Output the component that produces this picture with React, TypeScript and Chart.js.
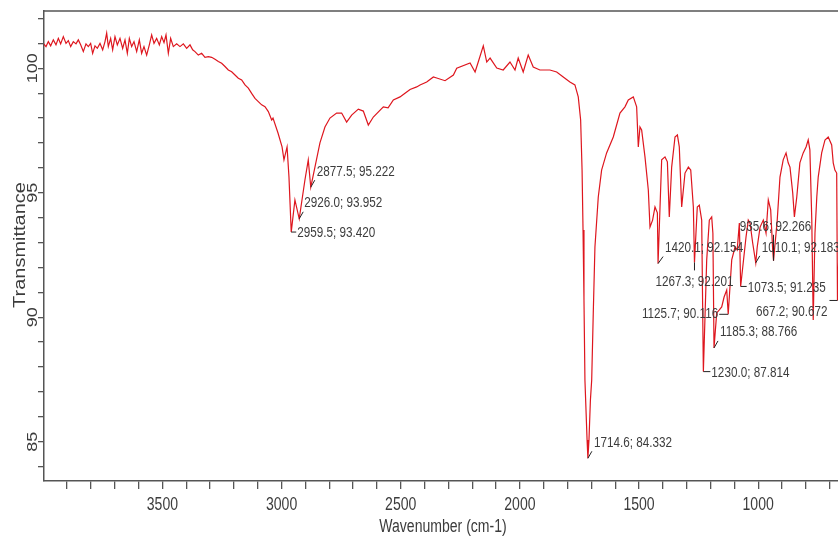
import { useEffect, useRef } from "react";
import { Chart, registerables } from "chart.js";

Chart.register(...registerables);

// ---- Spectrum data ----
const wavenumbers: number[] = [
  4000, 3988.6, 3978.8, 3969.0, 3957.9, 3946.7, 3936.9, 3927.1, 3915.9, 3904.7,
  3894.9, 3885.1, 3874.0, 3862.7, 3853.0, 3843.1, 3832.0, 3820.8, 3811.0, 3801.2,
  3792.8, 3783.0, 3773.2, 3762.0, 3750.8, 3741.0, 3734.0, 3727.1, 3717.3, 3708.9,
  3699.1, 3689.3, 3678.1, 3666.9, 3657.1, 3647.3, 3638.9, 3629.1, 3619.3, 3608.1,
  3597.0, 3587.2, 3577.4, 3566.2, 3555.0, 3545.2, 3535.4, 3524.2, 3513.0, 3503.2,
  3493.4, 3485.0, 3475.2, 3465.5, 3454.3, 3440.3, 3426.3, 3412.3, 3398.3, 3384.3,
  3373.1, 3363.4, 3349.4, 3335.4, 3321.4, 3307.4, 3293.4, 3279.4, 3265.4, 3251.5,
  3237.5, 3223.5, 3209.5, 3195.5, 3181.5, 3167.5, 3153.5, 3139.5, 3125.6, 3111.6,
  3097.6, 3083.6, 3069.6, 3055.6, 3041.6, 3036, 3015, 2998, 2990, 2977,
  2969, 2959.5, 2944, 2926.0, 2902, 2888, 2877.5, 2860, 2839, 2818,
  2797, 2769, 2748, 2727, 2706, 2678, 2657, 2636, 2615, 2573,
  2553, 2531, 2503, 2475, 2461, 2433, 2419, 2391, 2363, 2349,
  2314, 2279, 2265, 2209, 2188, 2176, 2153.5, 2139, 2125, 2097,
  2070, 2041.5, 2020.5, 2007, 1986, 1965, 1944, 1916, 1874, 1845.5,
  1818, 1790, 1769, 1755, 1745, 1739, 1735, 1731, 1727, 1718,
  1714.6, 1710, 1704, 1698.6, 1692, 1685, 1671, 1657, 1636, 1608,
  1580, 1559, 1545, 1524, 1510, 1503, 1496, 1489, 1475, 1461,
  1454, 1443, 1433, 1423, 1420.1, 1405, 1391, 1381, 1373, 1363,
  1349, 1339, 1331, 1321, 1307, 1293, 1283, 1272, 1267.3, 1255.5,
  1247, 1237, 1230.0, 1216, 1205, 1195, 1190, 1185.3, 1174, 1163,
  1153, 1143, 1132, 1125.7, 1111, 1097, 1088, 1079, 1073.5, 1051,
  1041.5, 1034, 1023, 1010.1, 1004, 992, 978.5, 967, 957.5, 947.5,
  939, 935.6, 920, 908.5, 895, 883, 874, 866.5, 855, 848,
  838, 825, 811, 799, 790, 783, 775, 769, 761.6, 754,
  748, 733.5, 719.6, 706, 691.5, 685, 678, 670.5, 667.2, 660,
];

const transmittance: number[] = [
  101.00, 100.87, 101.07, 100.90, 101.14, 100.94, 101.20, 100.98, 101.27, 101.00,
  101.11, 100.87, 101.07, 100.98, 101.14, 100.94, 100.67, 100.98, 100.87, 101.00,
  100.60, 100.90, 100.80, 101.00, 100.74, 101.07, 101.41, 100.87, 101.20, 100.74,
  101.27, 100.94, 101.20, 100.80, 101.14, 100.60, 101.20, 100.87, 101.07, 100.67,
  101.14, 100.60, 100.87, 100.53, 100.94, 101.34, 101.00, 101.20, 100.94, 101.27,
  101.03, 101.34, 100.60, 101.20, 100.87, 100.98, 100.87, 100.98, 100.80, 100.94,
  100.74, 100.67, 100.53, 100.60, 100.44, 100.47, 100.44, 100.36, 100.27, 100.20,
  100.07, 99.93, 99.86, 99.73, 99.60, 99.53, 99.33, 99.20, 98.99, 98.79,
  98.66, 98.53, 98.46, 98.26, 97.92, 98.00, 97.40, 96.84, 96.32, 96.84,
  95.63, 93.420, 94.71, 93.952, 95.51, 96.32, 95.222, 96.03, 97.00, 97.64,
  98.00, 98.20, 98.20, 97.84, 98.12, 98.36, 98.28, 97.72, 98.04, 98.45,
  98.41, 98.73, 98.85, 99.05, 99.15, 99.25, 99.33, 99.45, 99.65, 99.61,
  99.50, 99.73, 100.00, 100.21, 99.85, 100.21, 100.90, 100.25, 100.41, 100.01,
  99.93, 100.25, 99.93, 100.41, 99.85, 100.53, 100.05, 99.93, 99.93, 99.85,
  99.65, 99.45, 99.33, 98.85, 97.92, 95.91, 93.50, 90.69, 87.48, 85.07,
  84.332, 85.07, 86.67, 87.48, 90.17, 92.82, 94.83, 95.91, 96.60, 97.24,
  98.20, 98.45, 98.73, 98.85, 98.45, 96.84, 97.64, 97.52, 96.44, 95.11,
  93.62, 93.90, 94.43, 94.19, 92.154, 96.32, 96.44, 96.24, 94.03, 96.03,
  97.24, 97.32, 96.84, 94.43, 95.79, 96.03, 95.91, 94.43, 92.201, 94.43,
  94.50, 93.90, 87.814, 92.30, 93.90, 94.03, 93.37, 88.766, 90.17, 90.29,
  90.41, 90.81, 91.09, 90.116, 92.30, 92.82, 92.70, 93.78, 91.235, 93.22,
  93.90, 93.78, 92.98, 92.183, 92.82, 93.62, 93.90, 93.38, 94.71, 94.31,
  92.70, 92.266, 93.90, 95.63, 96.32, 96.60, 96.20, 96.03, 94.99, 94.03,
  94.83, 96.20, 96.60, 96.84, 97.12, 96.72, 93.90, 89.89, 93.38, 94.83,
  95.63, 96.60, 97.12, 97.24, 96.92, 96.20, 95.91, 95.79, 90.672, 93.00,
];

// ---- Picked peaks ----
const peakWavenumbers: number[] = [
  2959.5, 2926.0, 2877.5, 1714.6, 1420.1, 1267.3, 1230.0, 1185.3, 1125.7, 1073.5, 1010.1, 935.6, 667.2,
];
const peakTransmittance: number[] = [
  93.420, 93.952, 95.222, 84.332, 92.154, 92.201, 87.814, 88.766, 90.116, 91.235, 92.183, 92.266, 90.672,
];

// ---- Axes ----
const xRange: [number, number] = [665, 3997];
const yRange: [number, number] = [83.42, 102.3];
const xMinorStep = 100;
const xLabelStep = 500;
const yMinorStep = 1;
const yLabelStep = 5;
const xAxisTitle = "Wavenumber (cm-1)";
const yAxisTitle = "Transmittance";

// ---- Styles (label layout: text dx, text dy, align, leader dx, leader dy) ----
const peakLabelPlacement: [number, number, CanvasTextAlign, number, number][] = [
  [6, 1, "left", 5, 0],
  [5, -16, "left", 4, -7],
  [6, -15, "left", 4, -7],
  [6, -15, "left", 4, -7],
  [7, -16, "left", 5, -7],
  [0, 19, "center", 0, 8],
  [8, 1, "left", 7, 0],
  [6, -16, "left", 4, -7],
  [-10, 0, "right", -9, 0],
  [7, 1, "left", 6, 0],
  [6, -15, "left", 4, -7],
  [2, -34, "center", 0, -26],
  [-10, 11, "right", -8, 0],
];

const FONT = '"Liberation Sans", Arial, sans-serif';
const SQUEEZE = 0.78;
const TEXT_COLOR = "#3c3c3c";
const AXIS_COLOR = "#555555";
const LINE_COLOR = "rgb(222,22,30)";

function drawText(
  ctx: CanvasRenderingContext2D,
  text: string,
  x: number,
  y: number,
  size: number,
  align: CanvasTextAlign,
  baseline: CanvasTextBaseline,
  rotate = false
) {
  ctx.save();
  ctx.translate(x, y);
  ctx.scale(SQUEEZE, 1);
  if (rotate) ctx.rotate(-Math.PI / 2);
  ctx.font = `${size}px ${FONT}`;
  ctx.fillStyle = TEXT_COLOR;
  ctx.textAlign = align;
  ctx.textBaseline = baseline;
  ctx.fillText(text, 0, 0);
  ctx.restore();
}

const textPlugin = {
  id: "spectrumText",
  afterDraw(chart: any) {
    const ctx: CanvasRenderingContext2D = chart.ctx;
    const area = chart.chartArea;
    const xs = chart.scales.x;
    const ys = chart.scales.y;

    // top frame line
    ctx.save();
    ctx.strokeStyle = AXIS_COLOR;
    ctx.lineWidth = 1.5;
    ctx.beginPath();
    ctx.moveTo(area.left, area.top);
    ctx.lineTo(area.right, area.top);
    ctx.stroke();
    ctx.restore();

    // x tick labels
    for (const t of xs.ticks) {
      if (Math.abs(t.value % xLabelStep) < 1e-6) {
        drawText(ctx, String(t.value), xs.getPixelForValue(t.value), area.bottom + 29, 18, "center", "alphabetic");
      }
    }
    // y tick labels (rotated)
    for (const t of ys.ticks) {
      const v = Math.round(t.value * 1000) / 1000;
      if (Math.abs(v % yLabelStep) < 1e-6) {
        drawText(ctx, String(v), area.left - 7.5, ys.getPixelForValue(v), 18, "center", "alphabetic", true);
      }
    }
    // titles
    drawText(ctx, xAxisTitle, (area.left + area.right) / 2 + 2, area.bottom + 51, 18, "center", "alphabetic");
    drawText(ctx, yAxisTitle, 25, (area.top + area.bottom) / 2 - 1, 20, "center", "alphabetic", true);

    // peak labels
    for (let i = 0; i < peakWavenumbers.length; i++) {
      const px = xs.getPixelForValue(peakWavenumbers[i]);
      const py = ys.getPixelForValue(peakTransmittance[i]);
      const [tdx, tdy, align, ldx, ldy] = peakLabelPlacement[i];
      ctx.save();
      ctx.strokeStyle = "#222";
      ctx.lineWidth = 1;
      ctx.beginPath();
      ctx.moveTo(px, py);
      ctx.lineTo(px + ldx, py + ldy);
      ctx.stroke();
      ctx.restore();
      const label = `${peakWavenumbers[i].toFixed(1)}; ${peakTransmittance[i].toFixed(3)}`;
      drawText(ctx, label, px + tdx, py + tdy, 15, align, "middle");
    }
  },
};

export default function App() {
  const canvasRef = useRef<HTMLCanvasElement | null>(null);

  useEffect(() => {
    document.body.style.margin = "0";
    document.body.style.overflow = "hidden";
    const canvas = canvasRef.current;
    if (!canvas) return;
    const points = wavenumbers.map((w, i) => ({ x: w, y: transmittance[i] }));
    const chart = new Chart(canvas, {
      type: "line",
      data: {
        datasets: [
          {
            data: points,
            borderColor: LINE_COLOR,
            borderWidth: 1.2,
            pointRadius: 0,
            tension: 0,
            fill: false,
          },
        ],
      },
      options: {
        animation: false,
        responsive: false,
        devicePixelRatio: 1,
        layout: { padding: { left: 38, top: 11, right: 0, bottom: 48 } },
        plugins: { legend: { display: false }, tooltip: { enabled: false }, title: { display: false } },
        scales: {
          x: {
            type: "linear",
            reverse: true,
            min: xRange[0],
            max: xRange[1],
            ticks: { stepSize: xMinorStep, includeBounds: false, display: false },
            grid: { drawOnChartArea: false, drawTicks: true, tickLength: 8, color: AXIS_COLOR, lineWidth: 1.3 },
            border: { display: true, color: AXIS_COLOR, width: 1.5 },
          },
          y: {
            type: "linear",
            min: yRange[0],
            max: yRange[1],
            ticks: { stepSize: yMinorStep, includeBounds: false, display: false },
            grid: { drawOnChartArea: false, drawTicks: true, tickLength: 6, color: AXIS_COLOR, lineWidth: 1.3 },
            border: { display: true, color: AXIS_COLOR, width: 1.5 },
          },
        },
      },
      plugins: [textPlugin],
    });
    return () => chart.destroy();
  }, []);

  return (
    <div style={{ position: "fixed", left: 0, top: 0, width: 838, height: 537, background: "#fff", overflow: "hidden" }}>
      <canvas ref={canvasRef} width={838} height={537} style={{ display: "block" }} />
    </div>
  );
}
